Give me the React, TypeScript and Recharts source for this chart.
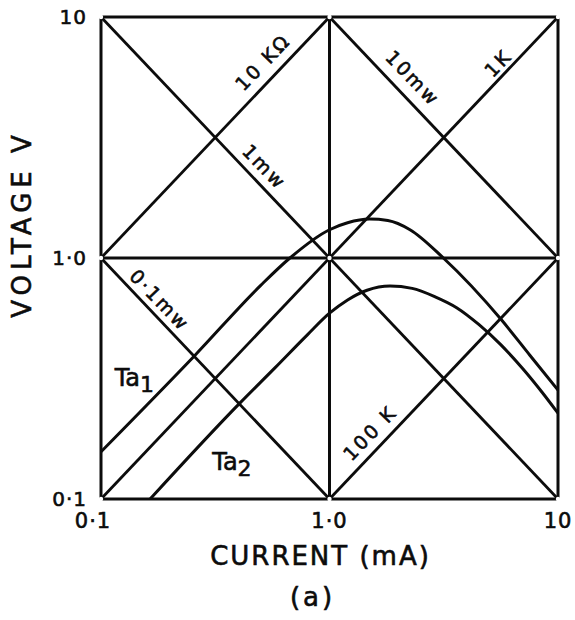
import React from 'react';
import { ComposedChart, Line, XAxis, YAxis, ReferenceLine, ReferenceDot, Label } from 'recharts';

const INK = '#0c0c0c';
const FONT = '"DejaVu Sans", Verdana, sans-serif';

// decade ticks on both log axes
const CURRENT_TICKS = [0.1, 1, 10];
const CURRENT_TICK_LABELS = ['0·1', '1·0', '10'];
const VOLTAGE_TICKS = [0.1, 1, 10];
const VOLTAGE_TICK_LABELS = ['0·1', '1·0', '10'];

// load lines V = I·R (R in kΩ, I in mA)
const LOAD_KOHM = [10, 1, 0.1];
const LOAD_LABELS = ['10 KΩ', '1K', '100 K'];

// constant power lines V = P / I (P in mW)
const POWER_MW = [0.1, 1, 10];
const POWER_LABELS = ['0·1mw', '1mw', '10mw'];

// measured characteristics
const TA1_CURRENT = [0.1, 0.258, 0.5, 0.671, 1.0, 1.2, 1.5, 1.8, 2.25, 3.15, 5.69, 7.53, 10];
const TA1_VOLTAGE = [0.157, 0.395, 0.77, 1.0, 1.31, 1.4, 1.45, 1.43, 1.31, 1.0, 0.55, 0.395, 0.283];

const TA2_CURRENT = [0.164, 0.405, 0.577, 0.8, 1.0, 1.2, 1.46, 1.84, 2.3, 2.9, 3.6, 4.5, 5.6, 7.0, 8.5, 10];
const TA2_VOLTAGE = [0.1, 0.25, 0.35, 0.48, 0.59, 0.67, 0.735, 0.765, 0.748, 0.69, 0.622, 0.53, 0.438, 0.348, 0.278, 0.227];

const I_MIN = 0.1;
const I_MAX = 10;
const V_MIN = 0.1;
const V_MAX = 10;

const ta1 = TA1_CURRENT.map((i, k) => ({ i, v: TA1_VOLTAGE[k] }));
const ta2 = TA2_CURRENT.map((i, k) => ({ i, v: TA2_VOLTAGE[k] }));

// clip each line to the plotting box
const loadSegments = LOAD_KOHM.map((r) => {
  const i0 = Math.max(I_MIN, V_MIN / r);
  const i1 = Math.min(I_MAX, V_MAX / r);
  return [{ x: i0, y: r * i0 }, { x: i1, y: r * i1 }];
});
const powerSegments = POWER_MW.map((p) => {
  const i0 = Math.max(I_MIN, p / V_MAX);
  const i1 = Math.min(I_MAX, p / V_MIN);
  return [{ x: i0, y: p / i0 }, { x: i1, y: p / i1 }];
});

// where the line captions sit (I, V) and their slant
const annotations = [
  { text: LOAD_LABELS[0], i: 0.51, v: 6.5, angle: -46 },
  { text: LOAD_LABELS[1], i: 5.46, v: 6.44, angle: -46 },
  { text: LOAD_LABELS[2], i: 1.5, v: 0.188, angle: -46 },
  { text: POWER_LABELS[0], i: 0.181, v: 0.67, angle: 46 },
  { text: POWER_LABELS[1], i: 0.52, v: 2.39, angle: 46 },
  { text: POWER_LABELS[2], i: 2.32, v: 5.58, angle: 46 },
];

const curveTags = [
  { base: 'Ta', sub: '1', i: 0.14, v: 0.318 },
  { base: 'Ta', sub: '2', i: 0.374, v: 0.143 },
];

const nodes = CURRENT_TICKS.flatMap((i) => VOLTAGE_TICKS.map((v) => ({ i, v })));

// pen-drawn lettering: regular face with a thin outline to thicken it
const textStyle = { fontFamily: FONT, fill: INK, stroke: INK, strokeWidth: 0.6 };

const XTick = (props: any) => {
  const { x, y, index } = props;
  return (
    <text
      x={x}
      y={y + 29}
      dx={index === 0 ? -8 : 0}
      textAnchor="middle"
      letterSpacing={1}
      style={{ ...textStyle, fontSize: 21 }}
    >
      {CURRENT_TICK_LABELS[index]}
    </text>
  );
};

const YTick = (props: any) => {
  const { x, y, index } = props;
  return (
    <text
      x={x - 14}
      y={y}
      textAnchor="end"
      dominantBaseline="central"
      letterSpacing={1}
      style={{ ...textStyle, fontSize: 20 }}
    >
      {VOLTAGE_TICK_LABELS[index]}
    </text>
  );
};

const SlantText = (text: string, angle: number) => (p: any) => (
  <text
    x={p.cx}
    y={p.cy}
    textAnchor="middle"
    dominantBaseline="central"
    letterSpacing={2.5}
    transform={`rotate(${angle} ${p.cx} ${p.cy})`}
    style={{ ...textStyle, fontSize: 19 }}
  >
    {text}
  </text>
);

const TagText = (base: string, sub: string) => (p: any) => (
  <text x={p.cx} y={p.cy} textAnchor="middle" dominantBaseline="central" style={{ ...textStyle, fontSize: 24 }}>
    {base}
    <tspan dy={6} style={{ fontSize: 22 }}>{sub}</tspan>
  </text>
);

export default function App() {
  return (
    <div style={{ position: 'absolute', left: 0, top: 0, background: '#fff' }}>
      <ComposedChart width={575} height={620} margin={{ top: 17, right: 17, left: 0, bottom: 0 }}>
        <XAxis
          dataKey="i"
          type="number"
          scale="log"
          domain={[I_MIN, I_MAX]}
          ticks={CURRENT_TICKS}
          allowDataOverflow
          axisLine={false}
          tickLine={false}
          tickSize={0}
          tickMargin={0}
          tick={XTick}
          height={121}
        >
          <Label
            content={(p: any) => {
              const cx = p.viewBox.x + p.viewBox.width / 2 - 9;
              const top = p.viewBox.y;
              return (
                <g>
                  <text x={cx} y={top + 66} textAnchor="middle" letterSpacing={2} style={{ ...textStyle, fontSize: 26 }}>
                    CURRENT (mA)
                  </text>
                  <text x={cx - 8} y={top + 107} textAnchor="middle" letterSpacing={3} style={{ ...textStyle, fontSize: 26 }}>
                    (a)
                  </text>
                </g>
              );
            }}
          />
        </XAxis>
        <YAxis
          dataKey="v"
          type="number"
          scale="log"
          domain={[V_MIN, V_MAX]}
          ticks={VOLTAGE_TICKS}
          allowDataOverflow
          axisLine={false}
          tickLine={false}
          tickSize={0}
          tickMargin={0}
          tick={YTick}
          width={101}
        >
          <Label
            content={() => (
              <text
                x={22}
                y={224}
                textAnchor="middle"
                dominantBaseline="central"
                letterSpacing={5}
                transform="rotate(-90 22 224)"
                style={{ ...textStyle, fontSize: 26 }}
              >
                VOLTAGE V
              </text>
            )}
          />
        </YAxis>

        {/* frame and the two mid-decade lines */}
        {CURRENT_TICKS.map((i) => (
          <ReferenceLine key={`x${i}`} x={i} stroke={INK} strokeWidth={3} />
        ))}
        {VOLTAGE_TICKS.map((v) => (
          <ReferenceLine key={`y${v}`} y={v} stroke={INK} strokeWidth={3} />
        ))}

        {loadSegments.map((seg, k) => (
          <ReferenceLine key={`r${k}`} segment={seg} stroke={INK} strokeWidth={2.8} />
        ))}
        {powerSegments.map((seg, k) => (
          <ReferenceLine key={`p${k}`} segment={seg} stroke={INK} strokeWidth={2.8} />
        ))}

        <Line data={ta1} dataKey="v" type="monotone" stroke={INK} strokeWidth={3} dot={false} isAnimationActive={false} />
        <Line data={ta2} dataKey="v" type="monotone" stroke={INK} strokeWidth={3} dot={false} isAnimationActive={false} />

        {nodes.map((n, k) => (
          <ReferenceDot key={`n${k}`} x={n.i} y={n.v} r={2.2} fill="#fff" stroke="none" />
        ))}

        {annotations.map((a, k) => (
          <ReferenceDot key={`a${k}`} x={a.i} y={a.v} r={0} shape={SlantText(a.text, a.angle)} />
        ))}
        {curveTags.map((t, k) => (
          <ReferenceDot key={`t${k}`} x={t.i} y={t.v} r={0} shape={TagText(t.base, t.sub)} />
        ))}
      </ComposedChart>
    </div>
  );
}
